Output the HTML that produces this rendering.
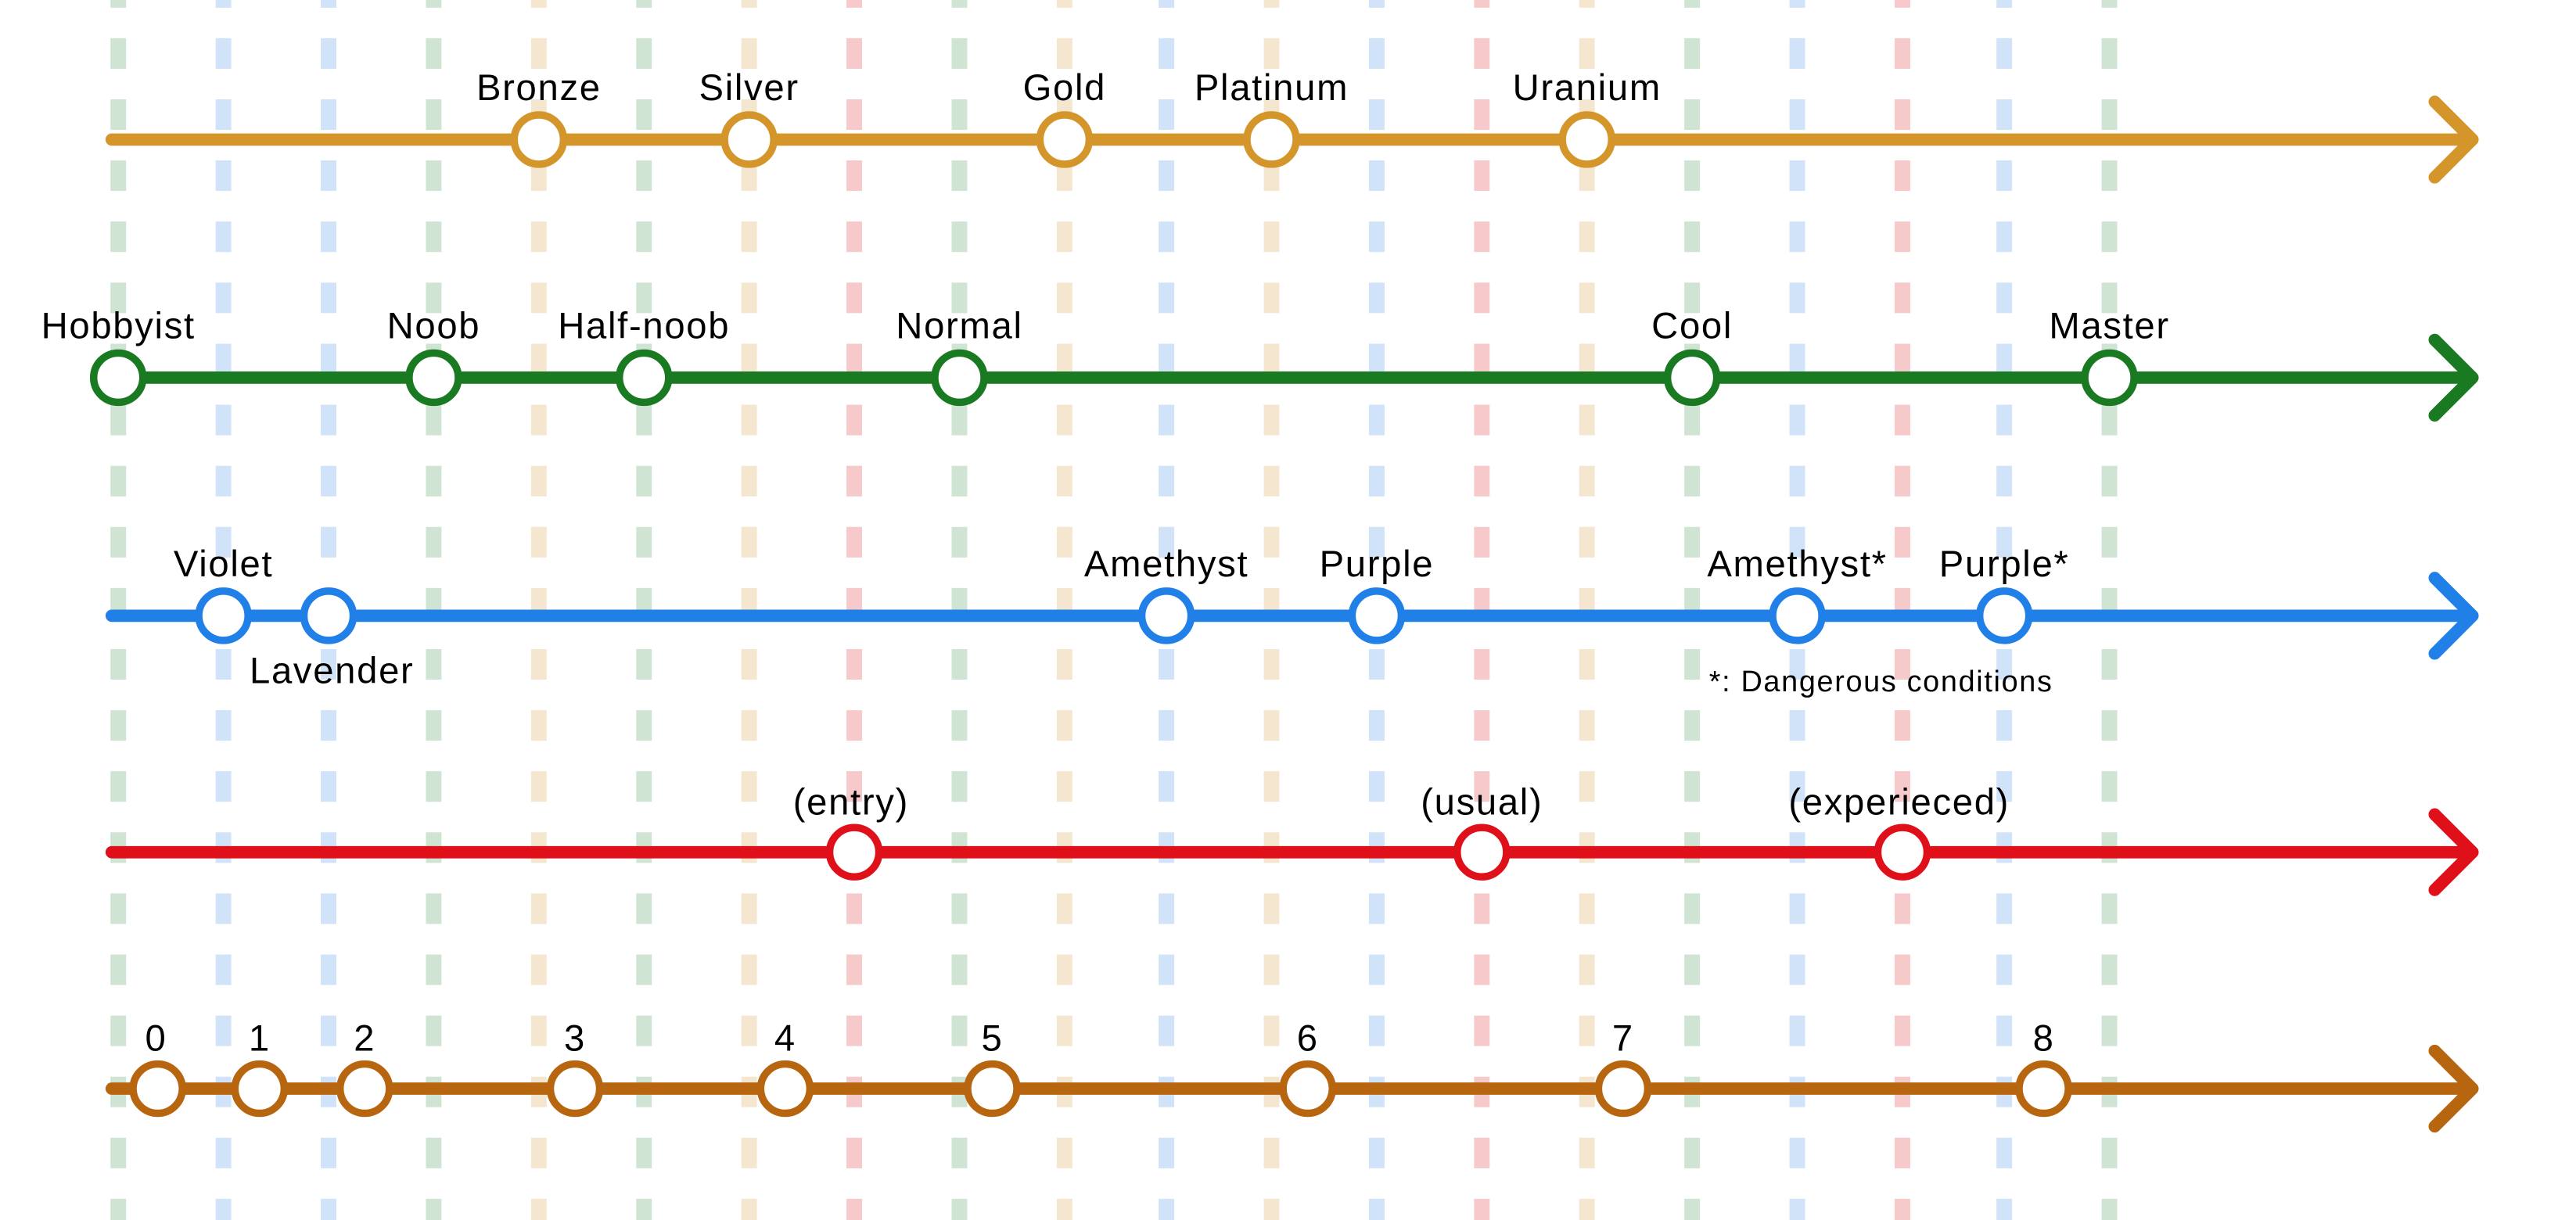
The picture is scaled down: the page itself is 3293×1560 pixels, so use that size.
<!DOCTYPE html>
<html><head><meta charset="utf-8"><style>html,body{margin:0;padding:0;background:#fff}svg{display:block}</style></head>
<body>
<svg width="3293" height="1560" viewBox="0 0 1568 743" preserveAspectRatio="none" xmlns="http://www.w3.org/2000/svg" font-family="Liberation Sans, sans-serif">
<g stroke-width="9.5" stroke-dasharray="18.6 18.6" stroke-dashoffset="13.9">
<line x1="72" y1="0" x2="72" y2="743" stroke="#d0e4d4"/>
<line x1="136" y1="0" x2="136" y2="743" stroke="#d0e3f8"/>
<line x1="200" y1="0" x2="200" y2="743" stroke="#d0e3f8"/>
<line x1="264" y1="0" x2="264" y2="743" stroke="#d0e4d4"/>
<line x1="328" y1="0" x2="328" y2="743" stroke="#f5e6d0"/>
<line x1="392" y1="0" x2="392" y2="743" stroke="#d0e4d4"/>
<line x1="456" y1="0" x2="456" y2="743" stroke="#f5e6d0"/>
<line x1="520" y1="0" x2="520" y2="743" stroke="#f6caca"/>
<line x1="584" y1="0" x2="584" y2="743" stroke="#d0e4d4"/>
<line x1="648" y1="0" x2="648" y2="743" stroke="#f5e6d0"/>
<line x1="710" y1="0" x2="710" y2="743" stroke="#d0e3f8"/>
<line x1="774" y1="0" x2="774" y2="743" stroke="#f5e6d0"/>
<line x1="838" y1="0" x2="838" y2="743" stroke="#d0e3f8"/>
<line x1="902" y1="0" x2="902" y2="743" stroke="#f6caca"/>
<line x1="966" y1="0" x2="966" y2="743" stroke="#f5e6d0"/>
<line x1="1030" y1="0" x2="1030" y2="743" stroke="#d0e4d4"/>
<line x1="1094" y1="0" x2="1094" y2="743" stroke="#d0e3f8"/>
<line x1="1158" y1="0" x2="1158" y2="743" stroke="#f6caca"/>
<line x1="1220" y1="0" x2="1220" y2="743" stroke="#d0e3f8"/>
<line x1="1284" y1="0" x2="1284" y2="743" stroke="#d0e4d4"/>
</g>
<g stroke-width="7.5" stroke-linecap="round" stroke-linejoin="round" fill="none">
<path d="M68 85H1503M1482 62L1505 85L1482 108" stroke="#d4952a"/>
<path d="M68 230H1503M1482 207L1505 230L1482 253" stroke="#1a7a22"/>
<path d="M68 375H1503M1482 352L1505 375L1482 398" stroke="#2080e8"/>
<path d="M68 519H1503M1482 496L1505 519L1482 542" stroke="#e0101a"/>
<path d="M68 663H1503M1482 640L1505 663L1482 686" stroke="#b8650f"/>
</g>
<g fill="#fff" stroke-width="4.5">
<g stroke="#d4952a"><circle cx="328" cy="85" r="15"/><circle cx="456" cy="85" r="15"/><circle cx="648" cy="85" r="15"/><circle cx="774" cy="85" r="15"/><circle cx="966" cy="85" r="15"/></g>
<g stroke="#1a7a22"><circle cx="72" cy="230" r="15"/><circle cx="264" cy="230" r="15"/><circle cx="392" cy="230" r="15"/><circle cx="584" cy="230" r="15"/><circle cx="1030" cy="230" r="15"/><circle cx="1284" cy="230" r="15"/></g>
<g stroke="#2080e8"><circle cx="136" cy="375" r="15"/><circle cx="200" cy="375" r="15"/><circle cx="710" cy="375" r="15"/><circle cx="838" cy="375" r="15"/><circle cx="1094" cy="375" r="15"/><circle cx="1220" cy="375" r="15"/></g>
<g stroke="#e0101a"><circle cx="520" cy="519" r="15"/><circle cx="902" cy="519" r="15"/><circle cx="1158" cy="519" r="15"/></g>
<g stroke="#b8650f"><circle cx="96" cy="663" r="15"/><circle cx="158" cy="663" r="15"/><circle cx="222" cy="663" r="15"/><circle cx="350" cy="663" r="15"/><circle cx="478" cy="663" r="15"/><circle cx="604" cy="663" r="15"/><circle cx="796" cy="663" r="15"/><circle cx="988" cy="663" r="15"/><circle cx="1244" cy="663" r="15"/></g>
</g>
<g font-size="22.5" letter-spacing="0.8" fill="#000" text-anchor="middle">
<text x="328" y="61">Bronze</text><text x="456" y="61">Silver</text><text x="648" y="61">Gold</text><text x="774" y="61">Platinum</text><text x="966" y="61">Uranium</text>
<text x="72" y="206">Hobbyist</text><text x="264" y="206">Noob</text><text x="392" y="206">Half-noob</text><text x="584" y="206">Normal</text><text x="1030" y="206">Cool</text><text x="1284" y="206">Master</text>
<text x="136" y="351">Violet</text><text x="202" y="416">Lavender</text><text x="710" y="351">Amethyst</text><text x="838" y="351">Purple</text><text x="1094" y="351">Amethyst*</text><text x="1220" y="351">Purple*</text>
<text x="1145" y="421" font-size="18">*: Dangerous conditions</text>
<text x="518" y="496">(entry)</text><text x="902" y="496">(usual)</text><text x="1156" y="496">(experieced)</text>
<text x="95" y="640">0</text><text x="158" y="640">1</text><text x="222" y="640">2</text><text x="350" y="640">3</text><text x="478" y="640">4</text><text x="604" y="640">5</text><text x="796" y="640">6</text><text x="988" y="640">7</text><text x="1244" y="640">8</text>
</g>
</svg>
</body></html>
